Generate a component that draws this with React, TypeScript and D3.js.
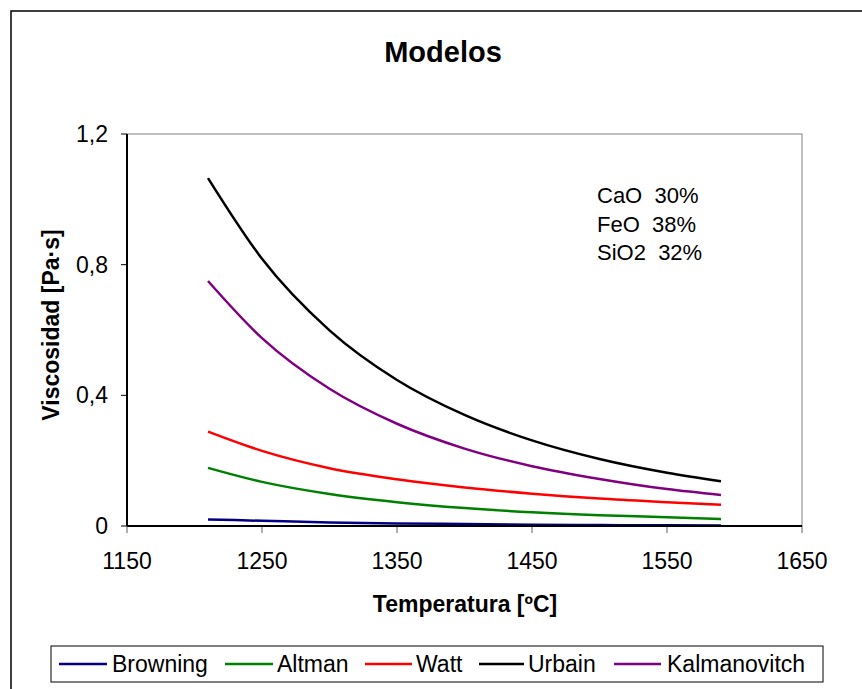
import React from "react";
import * as d3 from "d3";

const temps = [1210, 1250, 1300, 1350, 1400, 1450, 1500, 1550, 1590];
const browning = [0.02, 0.016, 0.011, 0.008, 0.006, 0.004, 0.003, 0.002, 0.0015];
const altman = [0.178, 0.135, 0.098, 0.073, 0.055, 0.042, 0.033, 0.027, 0.021];
const watt = [0.289, 0.23, 0.177, 0.143, 0.118, 0.099, 0.084, 0.073, 0.065];
const urbain = [1.065, 0.818, 0.599, 0.447, 0.34, 0.262, 0.205, 0.163, 0.137];
const kalmanovitch = [0.75, 0.575, 0.42, 0.313, 0.237, 0.183, 0.144, 0.113, 0.095];

const seriesNames = ["Browning", "Altman", "Watt", "Urbain", "Kalmanovitch"];
const seriesColors = ["#000080", "#008000", "#FF0000", "#000000", "#800080"];
const seriesValues = [browning, altman, watt, urbain, kalmanovitch];

const xTicks = [1150, 1250, 1350, 1450, 1550, 1650];
const yTicks = [0, 0.4, 0.8, 1.2];
const yTickLabels = ["0", "0,4", "0,8", "1,2"];

const annotation = ["CaO  30%", "FeO  38%", "SiO2  32%"];
const title = "Modelos";
const xTitle = "Temperatura [ºC]";
const yTitle = "Viscosidad [Pa·s]";

// legend layout: [lineStart, lineEnd, textStart]
const legendX = [
  [59, 107, 112],
  [225, 273, 277],
  [365, 412, 416],
  [479, 524, 528],
  [614, 661, 667],
];

export default function App() {
  const W = 862;
  const H = 689;
  const left = 127, right = 802, top = 134, bottom = 526;
  const x = d3.scaleLinear().domain([1150, 1650]).range([left, right]);
  const y = d3.scaleLinear().domain([0, 1.2]).range([bottom, top]);
  const font = "Arial, 'Liberation Sans', sans-serif";

  const line = d3
    .line<[number, number]>()
    .x((d) => x(d[0]))
    .y((d) => y(d[1]))
    .curve(d3.curveMonotoneX);

  return (
    <svg
      width={W}
      height={H}
      style={{ position: "absolute", left: 0, top: 0, background: "#fff" }}
      fontFamily={font}
    >
      <rect x={0} y={0} width={W} height={H} fill="#fff" />
      {/* outer chart border */}
      <rect x={11} y={11} width={W + 20} height={H + 20} fill="none" stroke="#000" strokeWidth={1.5} />
      {/* title */}
      <text x={443} y={62} textAnchor="middle" fontSize={29} fontWeight="bold">
        {title}
      </text>
      {/* plot area frame */}
      <rect x={left} y={top} width={right - left} height={bottom - top} fill="#fff" stroke="#808080" strokeWidth={1} />
      {/* y axis ticks + labels */}
      {yTicks.map((t, i) => (
        <g key={"y" + i}>
          <line x1={left - 6} x2={left} y1={y(t)} y2={y(t)} stroke="#000" strokeWidth={1} />
          <text x={108} y={y(t)} dy="0.35em" textAnchor="end" fontSize={23}>
            {yTickLabels[i]}
          </text>
        </g>
      ))}
      {/* x axis ticks + labels */}
      {xTicks.map((t, i) => (
        <g key={"x" + i}>
          <line x1={x(t)} x2={x(t)} y1={bottom} y2={bottom + 7} stroke="#606060" strokeWidth={1} />
          <text x={x(t)} y={569} textAnchor="middle" fontSize={23}>
            {t}
          </text>
        </g>
      ))}
      {/* series */}
      {seriesValues.map((vals, i) => (
        <path
          key={seriesNames[i]}
          d={line(temps.map((t, j) => [t, vals[j]] as [number, number])) || ""}
          fill="none"
          stroke={seriesColors[i]}
          strokeWidth={2.5}
        />
      ))}
      {/* axes lines */}
      <line x1={left} x2={left} y1={top} y2={bottom} stroke="#000" strokeWidth={2} />
      <line x1={left} x2={right} y1={bottom} y2={bottom} stroke="#000" strokeWidth={2} />
      {/* annotation */}
      {annotation.map((a, i) => (
        <text key={a} x={597} y={203 + i * 28.5} fontSize={22} style={{ whiteSpace: "pre" }}>
          {a}
        </text>
      ))}
      {/* axis titles */}
      <text x={465} y={612} textAnchor="middle" fontSize={23} fontWeight="bold">
        {xTitle}
      </text>
      <text
        transform={`translate(59,325) rotate(-90)`}
        textAnchor="middle"
        fontSize={23}
        fontWeight="bold"
      >
        {yTitle}
      </text>
      {/* legend */}
      <rect x={51} y={646} width={772} height={36} fill="#fff" stroke="#000" strokeWidth={1} />
      {seriesNames.map((n, i) => (
        <g key={"lg" + n}>
          <line
            x1={legendX[i][0]}
            x2={legendX[i][1]}
            y1={664}
            y2={664}
            stroke={seriesColors[i]}
            strokeWidth={2.5}
          />
          <text x={legendX[i][2]} y={672} fontSize={23}>
            {n}
          </text>
        </g>
      ))}
    </svg>
  );
}
